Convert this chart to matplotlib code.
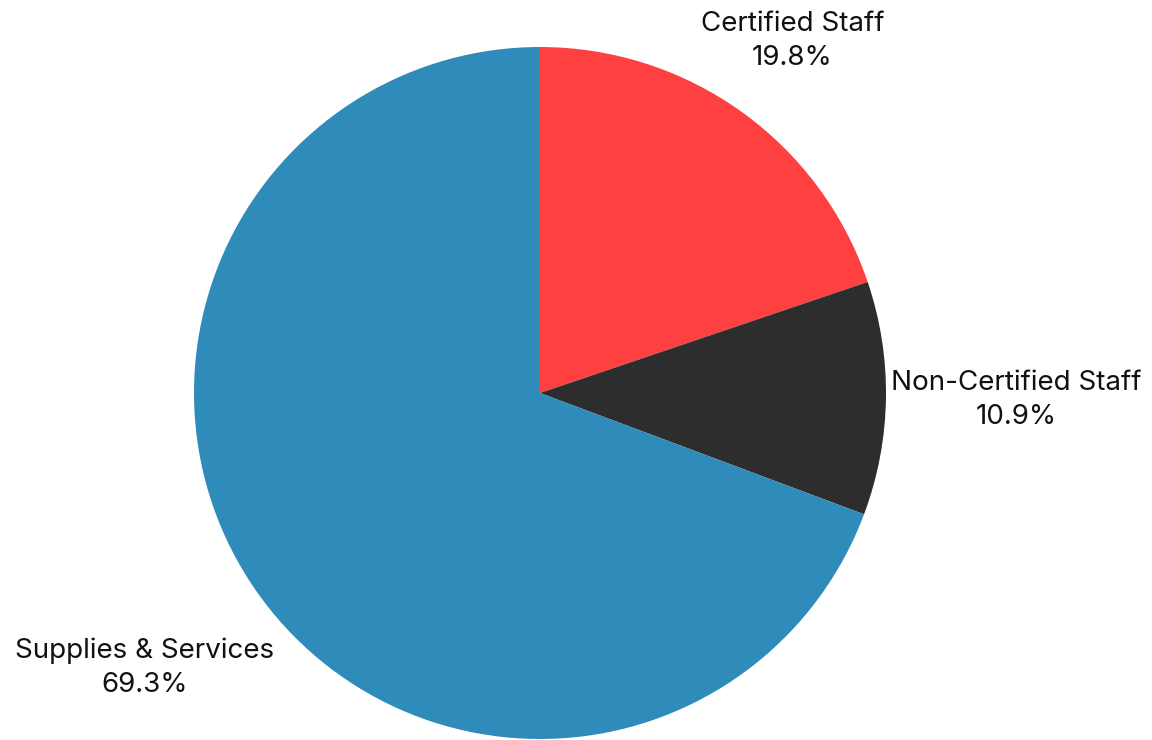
import numpy as np
import matplotlib
matplotlib.use("Agg")
import matplotlib.pyplot as plt

# Budget shares
categories = ["Certified Staff", "Non-Certified Staff", "Supplies & Services"]
shares = [19.8, 10.9, 69.3]
colors = ["#FF4040", "#2D2D2D", "#2E8BBA"]
label_dist = [1.252, 1.376, 1.391]

plt.rcParams['font.family'] = ['Inter', 'DejaVu Sans']

fig = plt.figure(figsize=(11.52, 7.4), dpi=100)
ax = fig.add_axes([0, 0, 1, 1])

radius_px = 346
cx, cy = 540, 740 - 393
wedges, _ = ax.pie(shares, colors=colors, startangle=90, counterclock=False,
                   radius=1, wedgeprops={'linewidth': 0})

for w, name, val, d in zip(wedges, categories, shares, label_dist):
    ang = np.deg2rad((w.theta1 + w.theta2) / 2)
    ax.text(d * np.cos(ang), d * np.sin(ang), f"{name}\n{val:.1f}%",
            ha='center', va='center', fontsize=20, linespacing=1.4,
            color='#111111')

ax.set_aspect('auto')
ax.set_xlim(-cx / radius_px, (1152 - cx) / radius_px)
ax.set_ylim(-cy / radius_px, (740 - cy) / radius_px)
ax.set_axis_off()

fig.savefig("out.png", dpi=100)
